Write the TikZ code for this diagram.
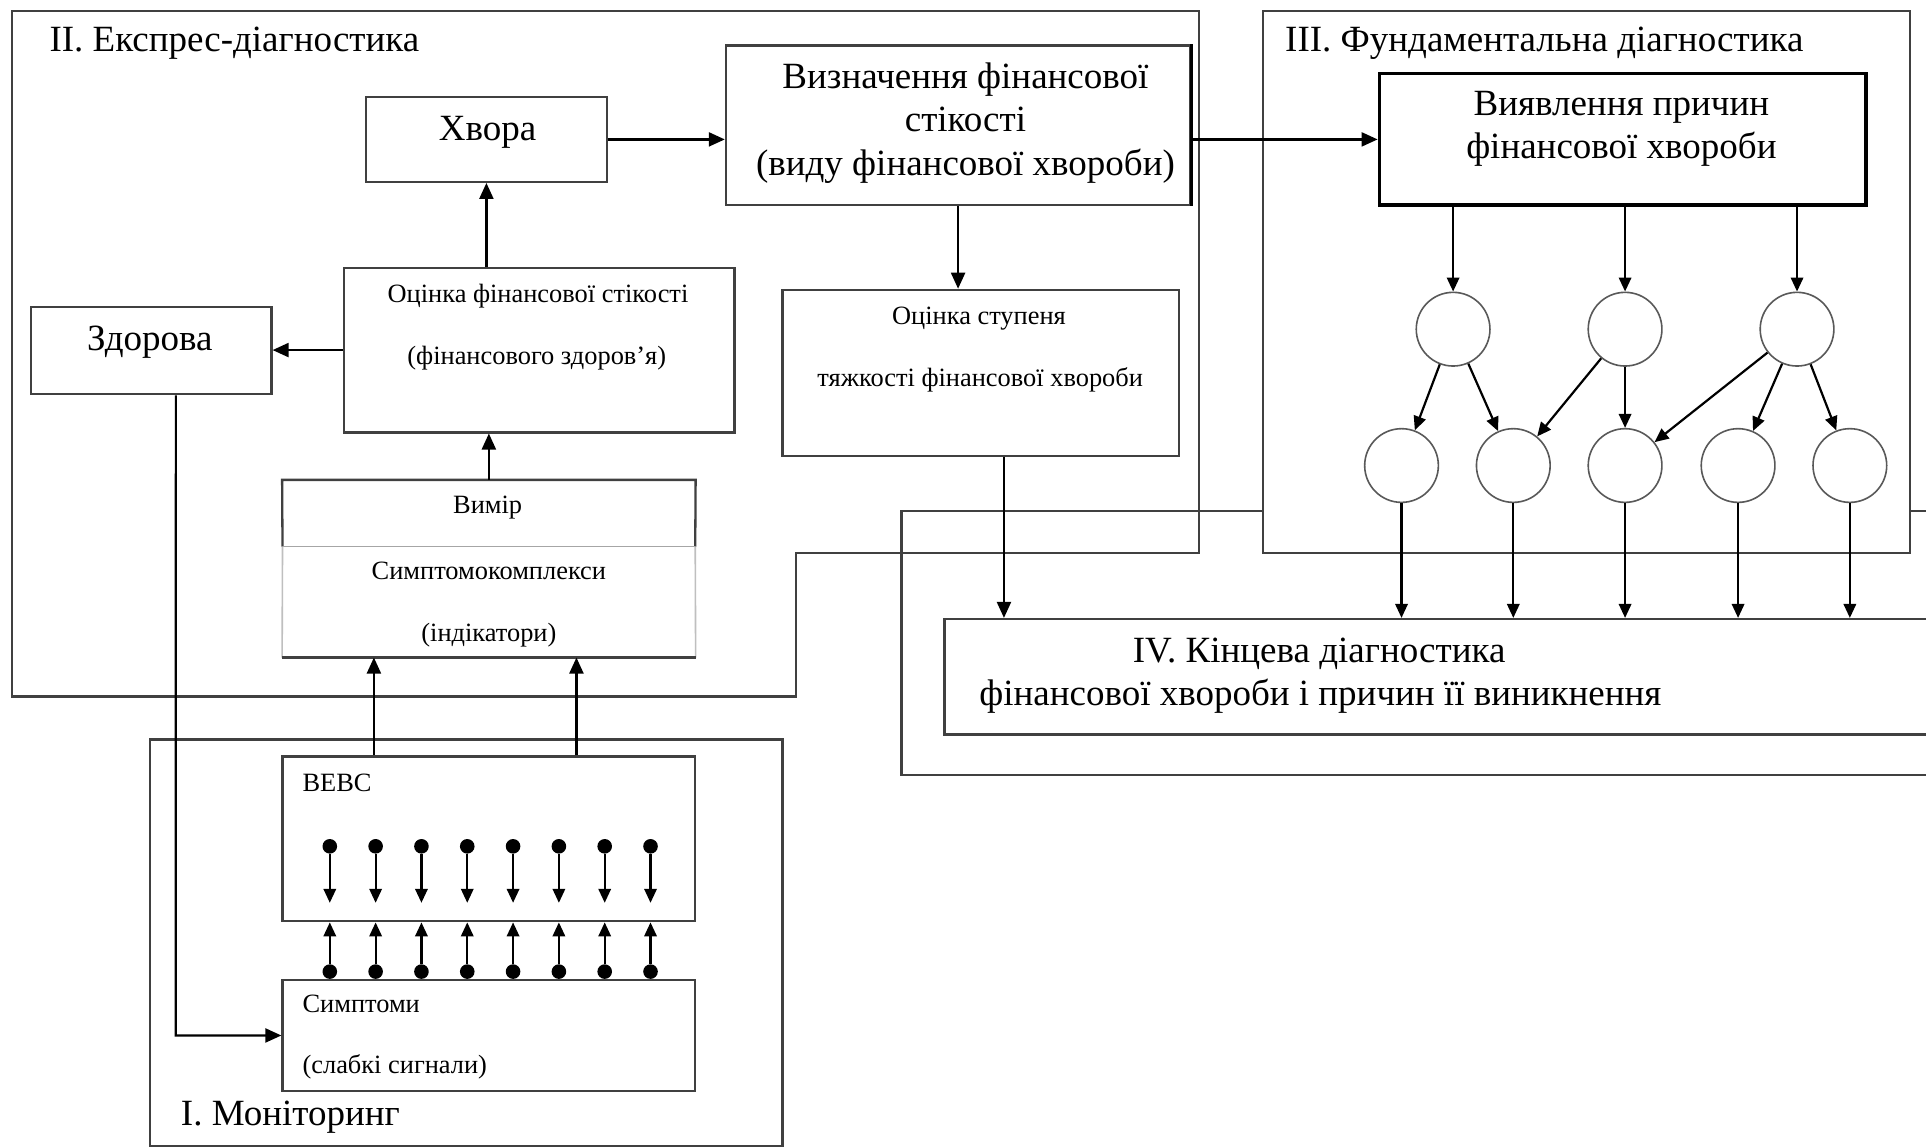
\documentclass[tikz,border=0pt]{standalone}
\usepackage{fontspec}
\setmainfont{Liberation Serif}
\usetikzlibrary{arrows.meta,fit,calc}

\begin{document}
\begin{tikzpicture}[x=0.61415pt,y=-0.61415pt,
  frame/.style={draw=black!75, line width=1.15pt},
  box/.style={draw=black!75, line width=1.15pt, inner sep=0pt, rectangle},
  arr/.style={draw=black, line width=1.1pt, -{Triangle[length=8pt,width=7pt]}},
  sarr/.style={draw=black, line width=1.1pt, -{Triangle[length=7pt,width=6.2pt]}},
  big/.style={font=\fontsize{18.5}{22}\selectfont, inner sep=0pt},
  small/.style={font=\fontsize{13.2}{16}\selectfont, inner sep=0pt},
  circ/.style={circle, draw=black!65, line width=0.8pt, minimum size=36.85pt, inner sep=0pt},
  dot/.style={circle, fill=black, inner sep=0pt, minimum size=7.3pt}
]
\useasboundingbox (0,0) rectangle (1568,934);
\clip (0,0) rectangle (1568,934);
\fill[white] (0,0) rectangle (1568,934);

% ---- stage IV outer frame (partly hidden behind stage III)
\draw[frame] (1600,416) -- (734,416) -- (734,631) -- (1600,631);

% ---- stage III frame
\draw[frame, fill=white] (1028,9) rectangle (1555,450);

% ---- stage II frame (stepped lower right corner)
\draw[frame] (10,9) -- (976,9) -- (976,450) -- (648,450) -- (648,567) -- (10,567) -- cycle;

% ---- stage I frame
\draw[frame] (122,602) rectangle (637,933);

% ---- boxes
\node[box, fit={(298,79) (494,148)}] (hv) {};
\node[box, fit={(25,250) (221,321)}] (zd) {};
\node[box, fit={(280,218) (598,352)}] (oc) {};
\node[box, fit={(591,37) (969,167)}] (vz) {};
\draw[black, line width=1.4pt] (vz.north east) -- (vz.south east);
\node[box, fit={(637,236) (960,371)}] (st) {};
\node[box, draw=black, line width=1.8pt, fit={(1123,60) (1519,167)}] (vv) {};
\node[inner sep=0pt, fit={(230,391) (566,535)}] (sk) {};
\coordinate (skmidw) at (230,445);
\coordinate (skmide) at (566,445);
\draw[draw=black!75, line width=1.15pt] (skmidw) -- (sk.north west) -- (sk.north east) -- (skmide);
\draw[draw=black!35, line width=0.8pt] (skmidw) -- (skmide);
\draw[draw=black!25, line width=0.8pt] (skmidw) -- (sk.south west);
\draw[draw=black!25, line width=0.8pt] (skmide) -- (sk.south east);
\draw[draw=black!75, line width=1.15pt] (sk.south west) -- (sk.south east);
\node[box, fit={(230,616) (566,750)}] (ve) {};
\node[box, fit={(230,798) (566,888)}] (sy) {};
\node[box, fill=white, fit={(769,504) (1590,598)}] (iv) {};

% ---- cause tree
\node[circ] (t1) at (1183,268) {};
\node[circ] (t2) at (1323,268) {};
\node[circ] (t3) at (1463,268) {};
\node[circ] (b1) at (1141,379) {};
\node[circ] (b2) at (1232,379) {};
\node[circ] (b3) at (1323,379) {};
\node[circ] (b4) at (1415,379) {};
\node[circ] (b5) at (1506,379) {};

% ---- texts
\node[big, anchor=base west] (ttl2) at (40,42) {II. Експрес-діагностика};
\node[big, anchor=base west] (ttl3) at (1046,42) {III. Фундаментальна діагностика};
\node[big, anchor=base west] (ttl1) at (147,916) {I. Моніторинг};
\node[big, anchor=base] (hvt) at (397,114) {Хвора};
\node[big, anchor=base] (zdt) at (122,285) {Здорова};
\node[big, anchor=base] (vzt1) at (786,72) {Визначення фінансової};
\node[big, anchor=base] (vzt2) at (786,107) {стікості};
\node[big, anchor=base] (vzt3) at (786,143) {(виду фінансової хвороби)};
\node[big, anchor=base] (vvt1) at (1320,94) {Виявлення причин};
\node[big, anchor=base] (vvt2) at (1320,129) {фінансової хвороби};
\node[big, anchor=base west] (ivt1) at (922,539) {IV. Кінцева діагностика};
\node[big, anchor=base west] (ivt2) at (797,574) {фінансової хвороби і причин її виникнення};
\node[small, anchor=base] (oct1) at (438,246) {Оцінка фінансової стікості};
\node[small, anchor=base] (oct2) at (437,297) {(фінансового здоров’я)};
\node[small, anchor=base] (stt1) at (797,264) {Оцінка ступеня};
\node[small, anchor=base] (stt2) at (798,315) {тяжкості фінансової хвороби};
\node[small, anchor=base] (vmt) at (397,418) {Вимір};
\node[small, anchor=base] (skt1) at (398,472) {Симптомокомплекси};
\node[small, anchor=base] (skt2) at (398,522) {(індікатори)};
\node[small, anchor=base west] (vet) at (246,644) {ВЕВС};
\node[small, anchor=base west] (syt1) at (246,824) {Симптоми};
\node[small, anchor=base west] (syt2) at (246,874) {(слабкі сигнали)};

% ---- connectors, stage II
\draw[arr] (hv.east) -- (hv.east -| vz.west);
\draw[arr] (hv.south |- oc.north) -- (hv.south);
\draw[arr] (oc.west) -- (oc.west -| zd.east);
\draw[arr] (sk.north) -- (sk.north |- oc.south);
\draw[arr] (vz.south) -- (vz.south |- st.north);
\draw[arr] ($(st.south west)!0.558!(st.south east)$) coordinate (stout) -- (stout |- iv.north);
\draw[arr] (vv.west -| vz.east) -- (vv.west);

% ---- connectors, stage I
\draw[arr] ($(ve.north west)!0.223!(ve.north east)$) coordinate (vel) -- (vel |- sk.south);
\draw[arr] ($(ve.north west)!0.711!(ve.north east)$) coordinate (ver) -- (ver |- sk.south);
\draw[arr] ($(zd.south west)!0.602!(zd.south east)$) -- (sy.west -| 143,0) -- (sy.west);
\foreach \i in {0,...,7} {
  \pgfmathsetmacro\xx{268.5+37.3*\i}
  \node[dot] (da\i) at (\xx,689) {};
  \coordinate (de\i) at (\xx,735);
  \node[dot] (db\i) at (\xx,791) {};
  \draw[sarr] (da\i) -- (de\i);
  \draw[sarr] (db\i) -- (db\i |- ve.south);
}

% ---- connectors, stage III
\foreach \n in {t1,t2,t3} \draw[sarr] (\n.north |- vv.south) -- (\n.north);
\draw[sarr] (t1) -- (b1);
\draw[sarr] (t1) -- (b2);
\draw[sarr] (t2) -- (b2);
\draw[sarr] (t2) -- (b3);
\draw[sarr] (t3) -- (b3);
\draw[sarr] (t3) -- (b4);
\draw[sarr] (t3) -- (b5);
\foreach \n in {b1,b2,b3,b4,b5} \draw[sarr] (\n.south) -- (\n.south |- iv.north);
\end{tikzpicture}
\end{document}
